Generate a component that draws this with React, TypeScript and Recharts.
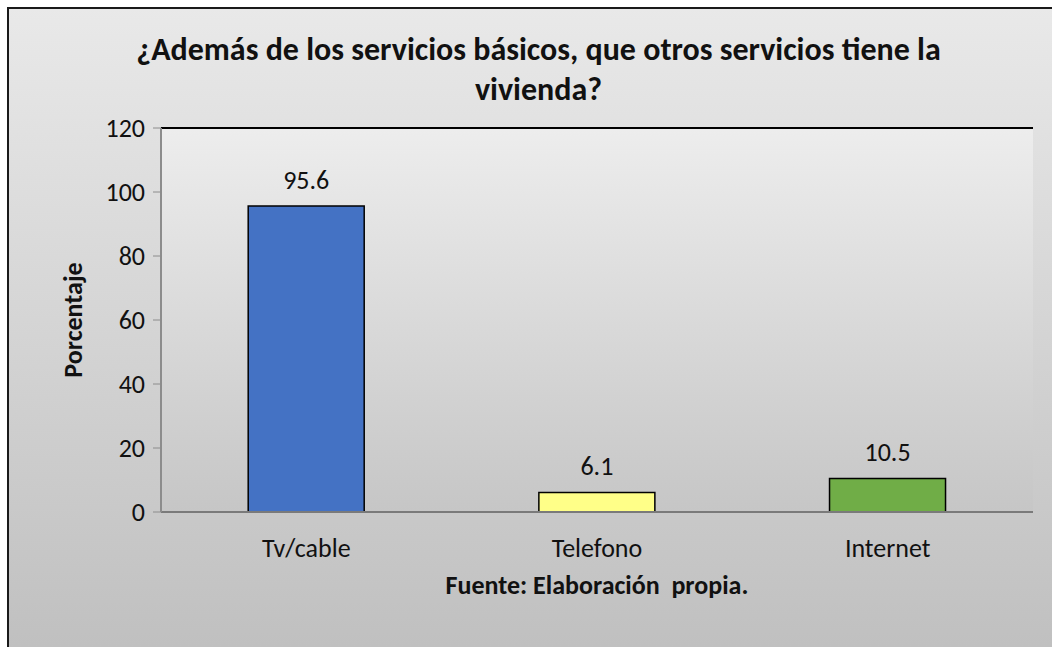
import { BarChart, Bar, XAxis, YAxis, CartesianGrid, LabelList, Cell, ReferenceLine } from "recharts";

const categories = ["Tv/cable", "Telefono", "Internet"];
const porcentajes = [95.6, 6.1, 10.5];
const barColors = ["#4472C4", "#FFFF88", "#70AD47"];
const yTicks = [0, 20, 40, 60, 80, 100, 120];

const chartData = categories.map((name, i) => ({ name, value: porcentajes[i] }));

const font = "Carlito, Calibri, Lato, sans-serif";

export default function App() {
  return (
    <div
      style={{
        position: "fixed",
        left: 7,
        top: 7,
        width: 1045,
        height: 640,
        overflow: "hidden",
        background: "linear-gradient(#e9e9e9, #c0c0c0)",
        boxShadow: "inset 2px 2px 0 0 #1a1a1a",
        fontFamily: font,
      }}
    >
      <svg width={0} height={0} style={{ position: "absolute" }}>
        <defs>
          <linearGradient id="plotBg" x1="0" y1="0" x2="0" y2="1">
            <stop offset="0%" stopColor="#ededed" />
            <stop offset="100%" stopColor="#c6c6c6" />
          </linearGradient>
        </defs>
      </svg>
      <div
        style={{
          position: "absolute",
          left: 0,
          width: 1045,
          paddingLeft: 18,
          boxSizing: "border-box",
          top: 23,
          textAlign: "center",
          fontWeight: 700,
          fontSize: 32,
          lineHeight: "40px",
          color: "#111",
        }}
      >
        ¿Además de los servicios básicos, que otros servicios tiene la
        <br />
        vivienda?
      </div>
      <BarChart
        width={1045}
        height={640}
        data={chartData}
        margin={{ top: 121, right: 19, left: 0, bottom: 75 }}
        barCategoryGap="30%"
      >
        <CartesianGrid vertical={false} stroke="#8c8c8c" fill="url(#plotBg)" />
        <XAxis
          dataKey="name"
          tickLine={false}
          tickSize={0}
          tickMargin={27}
          axisLine={{ stroke: "#7a7a7a", strokeWidth: 2 }}
          tick={{ fill: "#111", fontSize: 26, fontFamily: font }}
          height={60}
        />
        <YAxis
          yAxisId="left"
          domain={[0, 120]}
          ticks={yTicks}
          tickSize={8}
          tickMargin={8}
          width={154}
          axisLine={{ stroke: "#8c8c8c", strokeWidth: 2 }}
          tickLine={{ stroke: "#8c8c8c" }}
          tick={{ fill: "#111", fontSize: 26, fontFamily: font }}
        />
        <YAxis
          yAxisId="right"
          orientation="right"
          domain={[0, 120]}
          ticks={yTicks}
          width={0}
          tick={false}
          tickLine={false}
          axisLine={{ stroke: "#000", strokeWidth: 3 }}
        />
        <ReferenceLine yAxisId="left" y={120} stroke="#000" strokeWidth={2} />
        <Bar yAxisId="left" dataKey="value" stroke="#000" strokeWidth={1.5} isAnimationActive={false}>
          {chartData.map((d, i) => (
            <Cell key={d.name} fill={barColors[i]} />
          ))}
          <LabelList
            dataKey="value"
            position="top"
            offset={17}
            fill="#111"
            fontSize={26}
            fontFamily={font}
          />
        </Bar>
      </BarChart>
      <div
        style={{
          position: "absolute",
          left: 66,
          top: 313,
          transform: "translate(-50%, -50%) rotate(-90deg)",
          fontWeight: 700,
          fontSize: 26,
          color: "#111",
          whiteSpace: "nowrap",
        }}
      >
        Porcentaje
      </div>
      <div
        style={{
          position: "absolute",
          left: 590,
          top: 578,
          transform: "translate(-50%, -50%)",
          fontWeight: 700,
          fontSize: 26,
          color: "#111",
          whiteSpace: "pre",
        }}
      >
        {"Fuente: Elaboración  propia."}
      </div>
    </div>
  );
}
